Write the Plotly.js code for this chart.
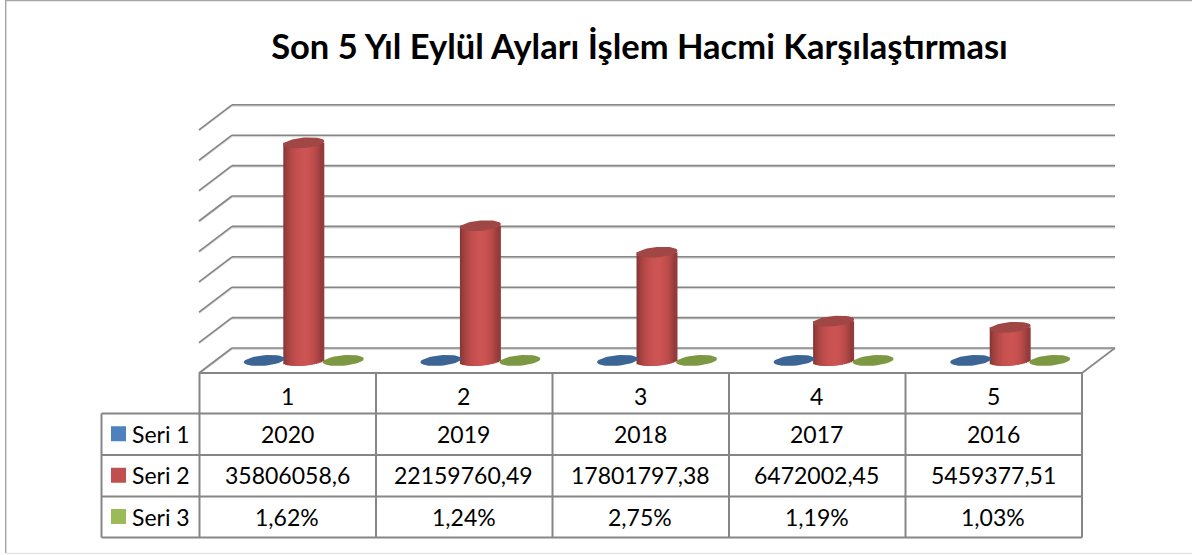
<!DOCTYPE html>
<html>
<head>
<meta charset="utf-8">
<script src="https://cdn.plot.ly/plotly-3.0.1.min.js"></script>
<style>html,body{margin:0;padding:0;background:#fff}#c{width:1192px;height:555px}</style>
</head>
<body>
<div id="c"></div>
<script>
const titleText = 'Son 5 Yıl Eylül Ayları İşlem Hacmi Karşılaştırması';
const categories = [1, 2, 3, 4, 5];
const seri1 = [2020, 2019, 2018, 2017, 2016];
const seri2 = [35806058.6, 22159760.49, 17801797.38, 6472002.45, 5459377.51];
const seri3 = [0.0162, 0.0124, 0.0275, 0.0119, 0.0103];
const seri1Labels = ['2020', '2019', '2018', '2017', '2016'];
const seri2Labels = ['35806058,6', '22159760,49', '17801797,38', '6472002,45', '5459377,51'];
const seri3Labels = ['1,62%', '1,24%', '2,75%', '1,19%', '1,03%'];
const seriesNames = ['Seri 1', 'Seri 2', 'Seri 3'];
const gridValues = [0, 5e6, 1e7, 1.5e7, 2e7, 2.5e7, 3e7, 3.5e7, 4e7];

const W = 1192, H = 555;
const FONT = 'Lato, Carlito, sans-serif';
const pxPerCat = 176.6, pxPerVal = 6.08 / 1e6;
const midX0 = 215.5, midY0 = 360.5;
const xRange = [0.5 - midX0 / pxPerCat, 0.5 + (W - midX0) / pxPerCat];
const yRange = [-(H - midY0) / pxPerVal, midY0 / pxPerVal];
const ux = p => p / pxPerCat, uy = p => p / pxPerVal;
const depthX = ux(16.5), depthY = uy(12.5);
const GRID = '#868686';

const semiA = 20.5, semiB = 5.2, tilt = 1.7;
function ellipse(cx, v) {
  const xs = [], ys = [];
  for (let i = 0; i <= 48; i++) {
    const t = i / 48 * 2 * Math.PI;
    xs.push(cx + ux(semiA * Math.cos(t)));
    ys.push(v + uy(tilt * Math.cos(t) + semiB * Math.sin(t)));
  }
  return {xs, ys};
}
function lowerEdge(dxPx) {
  const c = Math.max(-1, Math.min(1, dxPx / semiA));
  return tilt * c - semiB * Math.sqrt(1 - c * c);
}
function mix(a, b, f) { return a.map((v, i) => Math.round(v + (b[i] - v) * f)); }
function bodyColor(f) {
  const edgeL = [128, 50, 50], edgeR = [136, 54, 54], mid = [204, 84, 82];
  const g = f < 0.55 ? Math.sin(f / 0.55 * Math.PI / 2) : Math.sin((1 - f) / 0.45 * Math.PI / 2);
  const c = mix(f < 0.55 ? edgeL : edgeR, mid, Math.pow(g, 0.7));
  return `rgb(${c[0]},${c[1]},${c[2]})`;
}

// Side-by-side colour bands, each overlapping its neighbour so no seams show.
const stripePx = 2, stripes = Math.round(2 * semiA / stripePx), bandPx = 4;
const bx = [], by = [], bb = [], bw = [], bc = [];
categories.forEach((c, k) => {
  for (let s = 0; s < stripes; s++) {
    const dx = -semiA + bandPx / 2 + s * (2 * semiA - bandPx) / (stripes - 1);
    const low = uy(lowerEdge(dx));
    bx.push(c + ux(dx)); bb.push(low); by.push(seri2[k] - low);
    bw.push(ux(bandPx)); bc.push(bodyColor((s + 0.5) / stripes));
  }
});

const traces = [];
function flat(name, cx, v, color) {
  const e = ellipse(cx, v);
  traces.push({type: 'scatter', mode: 'lines', x: e.xs, y: e.ys, fill: 'toself', fillcolor: color,
    line: {width: 0, color: color}, hoverinfo: 'skip', showlegend: false, name});
}
const groupOff = ux(39.5);
categories.forEach((c, k) => {
  flat(seriesNames[0], c - groupOff, seri1[k], '#3c6595');
  flat(seriesNames[2], c + groupOff, seri3[k], '#7d9842');
});
traces.push({type: 'bar', name: seriesNames[1], x: bx, y: by, base: bb, width: bw,
  marker: {color: bc, line: {width: 0}}, hoverinfo: 'skip', showlegend: false});
categories.forEach((c, k) => flat(seriesNames[1], c, seri2[k], '#a04644'));

const shapes = [];
function seg(xref, yref, x0, y0, x1, y1, color, w, layer) {
  shapes.push({type: 'line', xref, yref, x0, y0, x1, y1, layer: layer || 'below', line: {color, width: w}});
}
const xL = 0.5, xR = 5.5;
gridValues.forEach(v => {
  const yb = v + depthY, yf = v - depthY;
  seg('x', 'y', xL + depthX, yb - uy(1), xR + depthX, yb - uy(1), '#d9d9d9', 2);
  seg('x', 'y', xL - depthX, yf - uy(0.7), xL + depthX, yb - uy(0.7), '#d9d9d9', 2);
  seg('x', 'y', xL + depthX, yb, xR + depthX, yb, GRID, 1.6);
  seg('x', 'y', xL - depthX, yf, xL + depthX, yb, GRID, 1.6);
});
seg('x', 'y', xR - depthX, -depthY, xR + depthX, depthY, GRID, 1.6);

const px = p => p / W, py = p => 1 - p / H;
const colX = [199.5, 376, 552.5, 729, 905.5, 1082];
const rowY = [373, 413.5, 455, 496.5, 537.5];
const textY = [396, 433.5, 475, 516.5];
const tableLeft = 101.5;
colX.forEach(x => seg('paper', 'paper', px(x), py(rowY[0]), px(x), py(rowY[4]), GRID, 2, 'above'));
seg('paper', 'paper', px(tableLeft), py(rowY[1]), px(tableLeft), py(rowY[4]), GRID, 2, 'above');
seg('paper', 'paper', px(colX[0]), py(rowY[0]), px(colX[5]), py(rowY[0]), GRID, 2, 'above');
rowY.slice(1).forEach(y => seg('paper', 'paper', px(tableLeft), py(y), px(colX[5]), py(y), GRID, 2, 'above'));

const swatchColors = ['#4f81bd', '#c0504d', '#9bbb59'];
const annotations = [];
function cell(text, x, y, anchor) {
  annotations.push({text: String(text), xref: 'paper', yref: 'paper', x: px(x), y: py(y),
    xanchor: anchor || 'center', yanchor: 'middle', showarrow: false,
    font: {family: FONT, size: 23, color: '#000'}});
}
const rows = [categories, seri1Labels, seri2Labels, seri3Labels];
rows.forEach((r, ri) => {
  const cy = textY[ri];
  r.forEach((t, ci) => cell(t, (colX[ci] + colX[ci + 1]) / 2 - 0.5, cy));
  if (ri > 0) {
    const mid = (rowY[ri] + rowY[ri + 1]) / 2;
    cell(seriesNames[ri - 1], 130, cy, 'left');
    shapes.push({type: 'rect', xref: 'paper', yref: 'paper', layer: 'above',
      x0: px(111), x1: px(126), y0: py(mid - 8), y1: py(mid + 7),
      fillcolor: swatchColors[ri - 1], line: {width: 0}});
  }
});
seg('paper', 'paper', px(5.7), py(0.5), px(W), py(0.5), '#a6a6a6', 1.5);
seg('paper', 'paper', px(5.7), py(0), px(5.7), py(553), '#a6a6a6', 1.5);
seg('paper', 'paper', px(5.7), py(553.5), px(W), py(553.5), '#e6e6e6', 1.5);

const layout = {
  width: W, height: H, margin: {l: 0, r: 0, t: 0, b: 0, pad: 0},
  paper_bgcolor: '#fff', plot_bgcolor: 'rgba(0,0,0,0)', showlegend: false,
  barmode: 'overlay', hovermode: false,
  title: {text: '<b>' + titleText + '</b>', x: 639.5 / W, xanchor: 'center', xref: 'paper',
    y: 1 - 47 / H, yanchor: 'middle', yref: 'paper', font: {family: FONT, size: 34.5, color: '#000'}},
  xaxis: {range: xRange, visible: false, fixedrange: true, type: 'linear'},
  yaxis: {range: yRange, visible: false, fixedrange: true, type: 'linear'},
  shapes, annotations
};
Plotly.newPlot('c', traces, layout, {displayModeBar: false});
</script>
</body>
</html>
